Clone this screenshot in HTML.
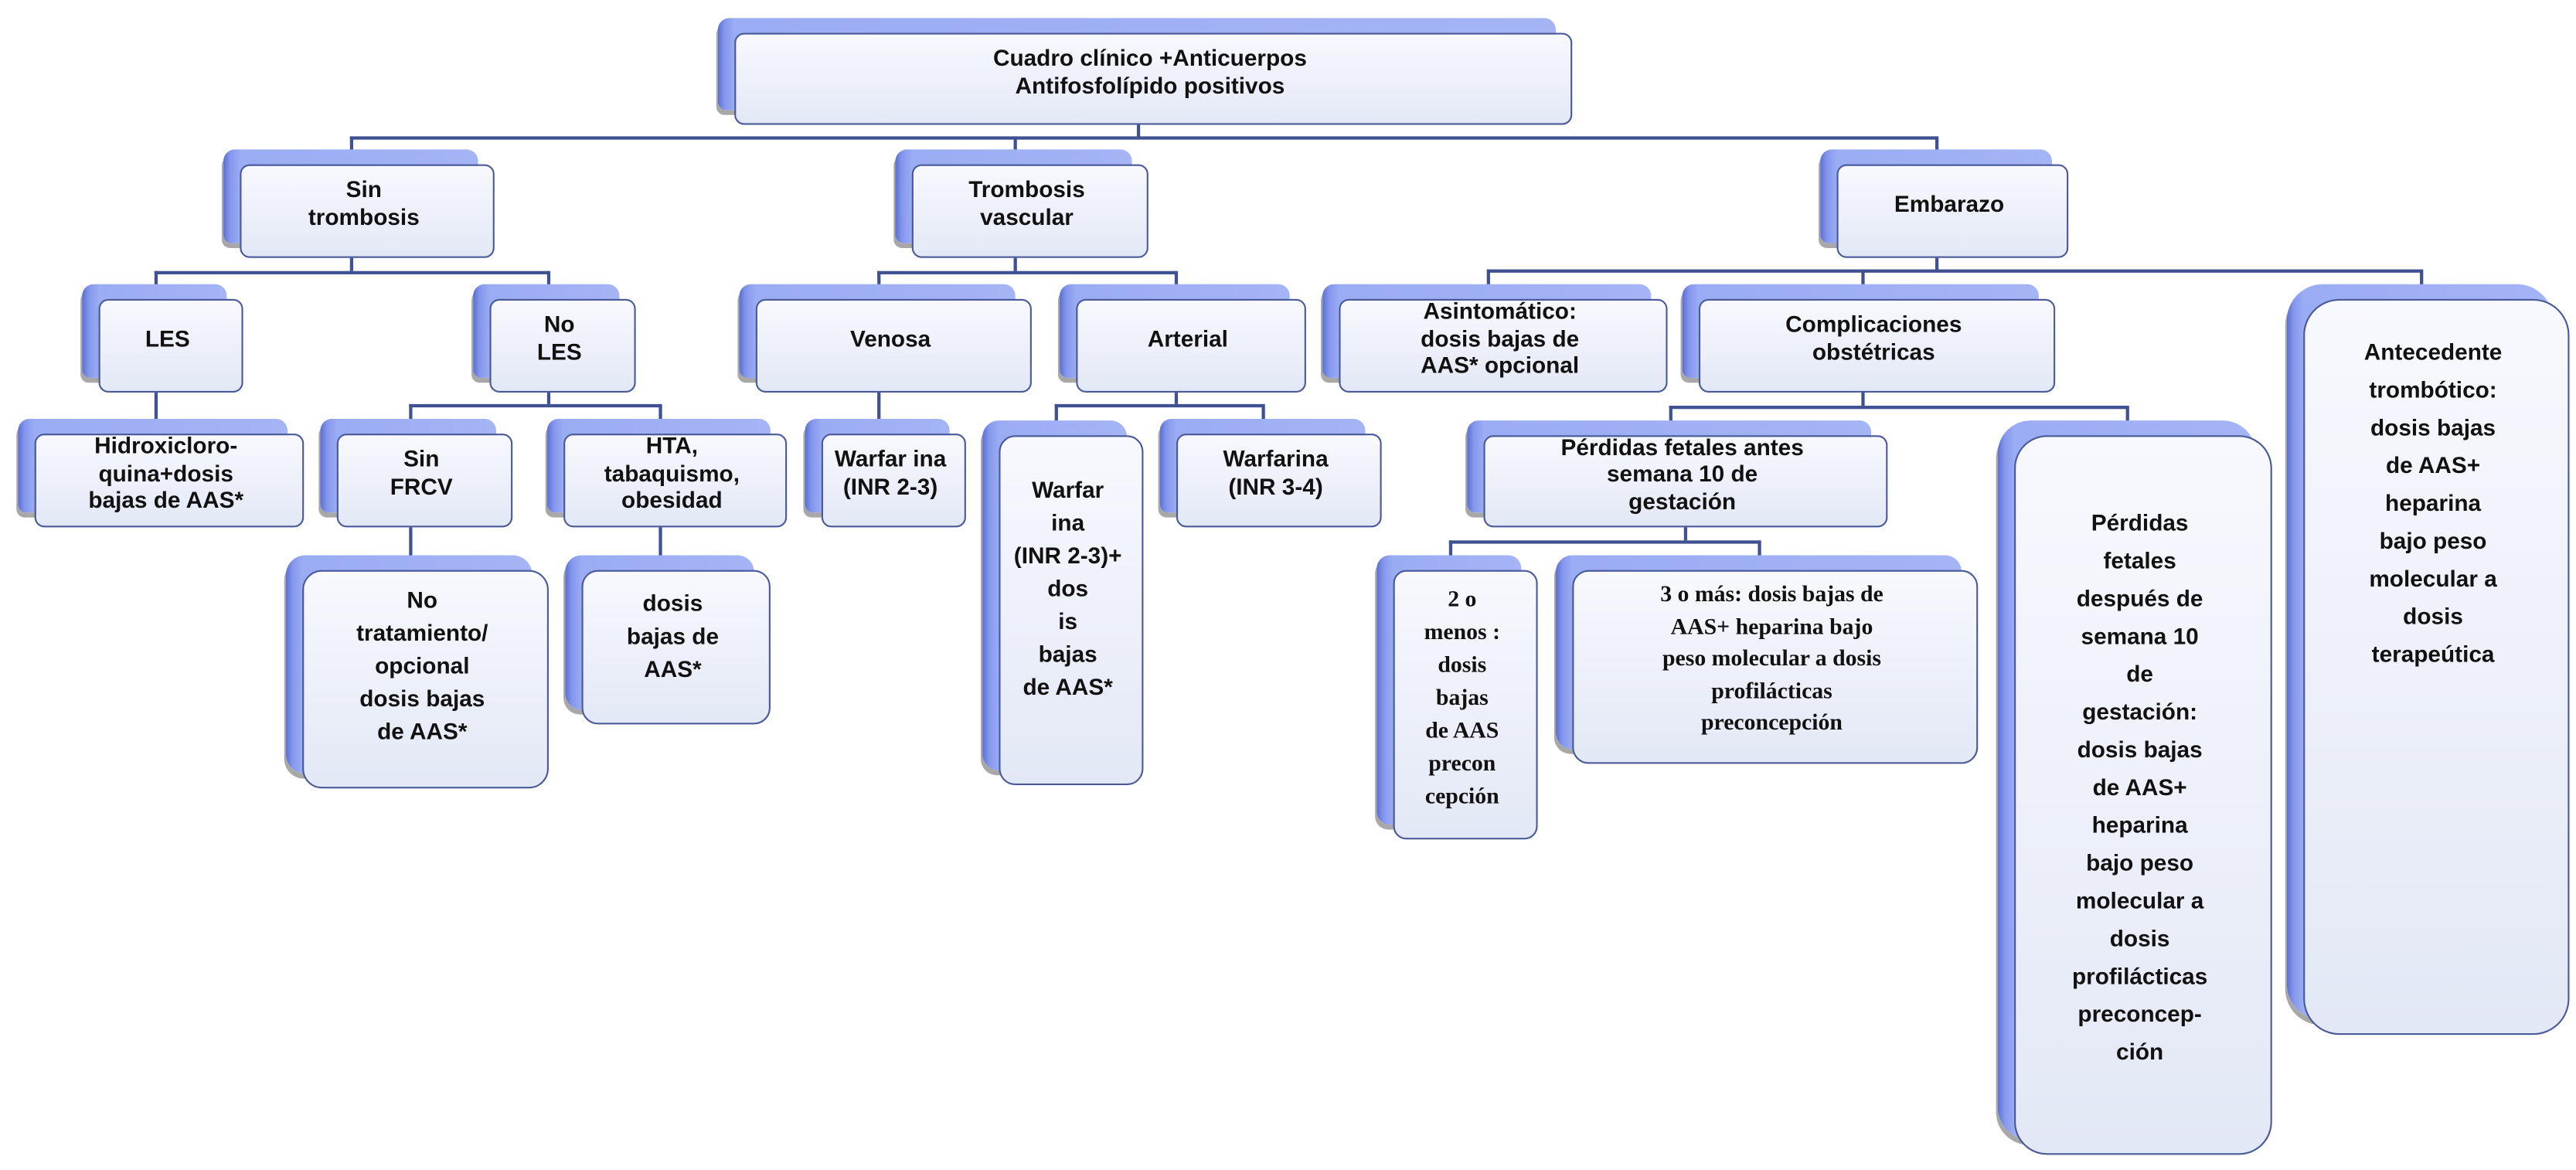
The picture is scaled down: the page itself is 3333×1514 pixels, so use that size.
<!DOCTYPE html>
<html><head><meta charset="utf-8"><style>
html,body{margin:0;padding:0;background:#fff;width:3333px;height:1514px;overflow:hidden}
#c{position:absolute;left:0;top:0;width:1568px;height:712px;transform:scale(2.12564);transform-origin:0 0}
.l{position:absolute;background:#3f5190}
.n{position:absolute}
.b{position:absolute;left:-10px;top:-9px;width:100%;height:100%;border-radius:7px 7px 5px 5px;background:linear-gradient(90deg,#5a6fd0 0,#8496ec 4px,#9aacf3 10px,#a4b4f5 100%);box-shadow:-1px 3px 0 #a8a8a8}
.f{position:absolute;left:0;top:0;width:100%;height:100%;box-sizing:border-box;border:1.5px solid #4a5a98;border-radius:6px;background:linear-gradient(#f8f9fe,#e3e8f6);display:flex;align-items:center;justify-content:center;text-align:center;font:bold 14px/1.18 "Liberation Sans",Arial,sans-serif;color:#111;padding:0 4px 9px 0}
.s{font-family:"Liberation Serif",serif}
</style></head><body><div id="c">
<!-- connectors -->
<div class="l" style="left:692px;top:76px;width:1.5px;height:8px"></div>
<div class="l" style="left:213px;top:83px;width:966px;height:1.5px"></div>
<div class="l" style="left:213px;top:83px;width:1.5px;height:10px"></div>
<div class="l" style="left:617px;top:83px;width:1.5px;height:10px"></div>
<div class="l" style="left:1178px;top:83px;width:1.5px;height:10px"></div>

<div class="l" style="left:213px;top:157px;width:1.5px;height:8px"></div>
<div class="l" style="left:94px;top:165px;width:240px;height:1.5px"></div>
<div class="l" style="left:94px;top:165px;width:1.5px;height:10px"></div>
<div class="l" style="left:333px;top:165px;width:1.5px;height:10px"></div>

<div class="l" style="left:617px;top:157px;width:1.5px;height:8px"></div>
<div class="l" style="left:534px;top:165px;width:182px;height:1.5px"></div>
<div class="l" style="left:534px;top:165px;width:1.5px;height:10px"></div>
<div class="l" style="left:715px;top:165px;width:1.5px;height:10px"></div>

<div class="l" style="left:1178px;top:157px;width:1.5px;height:8px"></div>
<div class="l" style="left:905px;top:164px;width:569px;height:1.5px"></div>
<div class="l" style="left:905px;top:164px;width:1.5px;height:11px"></div>
<div class="l" style="left:1133px;top:164px;width:1.5px;height:11px"></div>
<div class="l" style="left:1473px;top:164px;width:1.5px;height:11px"></div>

<div class="l" style="left:94px;top:239px;width:1.5px;height:18px"></div>
<div class="l" style="left:333px;top:239px;width:1.5px;height:7px"></div>
<div class="l" style="left:249px;top:246px;width:153px;height:1.5px"></div>
<div class="l" style="left:249px;top:246px;width:1.5px;height:10px"></div>
<div class="l" style="left:401px;top:246px;width:1.5px;height:10px"></div>
<div class="l" style="left:534px;top:239px;width:1.5px;height:18px"></div>
<div class="l" style="left:715px;top:239px;width:1.5px;height:7px"></div>
<div class="l" style="left:642px;top:246px;width:127px;height:1.5px"></div>
<div class="l" style="left:642px;top:246px;width:1.5px;height:10px"></div>
<div class="l" style="left:768px;top:246px;width:1.5px;height:10px"></div>
<div class="l" style="left:1133px;top:239px;width:1.5px;height:8px"></div>
<div class="l" style="left:1016px;top:247px;width:279px;height:1.5px"></div>
<div class="l" style="left:1016px;top:247px;width:1.5px;height:10px"></div>
<div class="l" style="left:1294px;top:247px;width:1.5px;height:10px"></div>

<div class="l" style="left:249px;top:321px;width:1.5px;height:18px"></div>
<div class="l" style="left:401px;top:321px;width:1.5px;height:18px"></div>
<div class="l" style="left:1025px;top:321px;width:1.5px;height:8px"></div>
<div class="l" style="left:882px;top:329px;width:189px;height:1.5px"></div>
<div class="l" style="left:882px;top:329px;width:1.5px;height:10px"></div>
<div class="l" style="left:1070px;top:329px;width:1.5px;height:10px"></div>

<!-- nodes -->
<div class="n" style="left:447px;top:20px;width:510px;height:56px"><div class="b"></div><div class="f">Cuadro clínico +Anticuerpos<br>Antifosfolípido positivos</div></div>
<div class="n" style="left:146px;top:100px;width:155px;height:57px"><div class="b"></div><div class="f">Sin<br>trombosis</div></div>
<div class="n" style="left:555px;top:100px;width:144px;height:57px"><div class="b"></div><div class="f">Trombosis<br>vascular</div></div>
<div class="n" style="left:1118px;top:100px;width:141px;height:57px"><div class="b"></div><div class="f">Embarazo</div></div>

<div class="n" style="left:60px;top:182px;width:88px;height:57px"><div class="b"></div><div class="f">LES</div></div>
<div class="n" style="left:298px;top:182px;width:89px;height:57px"><div class="b"></div><div class="f">No<br>LES</div></div>
<div class="n" style="left:460px;top:182px;width:168px;height:57px"><div class="b"></div><div class="f">Venosa</div></div>
<div class="n" style="left:655px;top:182px;width:140px;height:57px"><div class="b"></div><div class="f">Arterial</div></div>
<div class="n" style="left:815px;top:182px;width:200px;height:57px"><div class="b"></div><div class="f">Asintomático:<br>dosis bajas de<br>AAS* opcional</div></div>
<div class="n" style="left:1034px;top:182px;width:217px;height:57px"><div class="b"></div><div class="f">Complicaciones<br>obstétricas</div></div>
<div class="n" style="left:1402px;top:182px;width:162px;height:448px"><div class="b" style="border-radius:22px"></div><div class="f" style="border-radius:22px;line-height:23px;align-items:flex-start;padding-top:20px">Antecedente<br>trombótico:<br>dosis bajas<br>de AAS+<br>heparina<br>bajo peso<br>molecular a<br>dosis<br>terapeútica</div></div>

<div class="n" style="left:21px;top:264px;width:164px;height:57px"><div class="b"></div><div class="f">Hidroxicloro-<br>quina+dosis<br>bajas de AAS*</div></div>
<div class="n" style="left:205px;top:264px;width:107px;height:57px"><div class="b"></div><div class="f">Sin<br>FRCV</div></div>
<div class="n" style="left:343px;top:264px;width:136px;height:57px"><div class="b"></div><div class="f">HTA,<br>tabaquismo,<br>obesidad</div></div>
<div class="n" style="left:500px;top:264px;width:88px;height:57px"><div class="b"></div><div class="f">Warfar ina<br>(INR 2-3)</div></div>
<div class="n" style="left:608px;top:265px;width:88px;height:213px"><div class="b" style="border-radius:10px"></div><div class="f" style="border-radius:10px;line-height:20px;padding-bottom:28px">Warfar<br>ina<br>(INR 2-3)+<br>dos<br>is<br>bajas<br>de AAS*</div></div>
<div class="n" style="left:716px;top:264px;width:125px;height:57px"><div class="b"></div><div class="f">Warfarina<br>(INR 3-4)</div></div>
<div class="n" style="left:903px;top:265px;width:246px;height:56px"><div class="b"></div><div class="f">Pérdidas fetales antes<br>semana 10 de<br>gestación</div></div>
<div class="n" style="left:1226px;top:265px;width:157px;height:438px"><div class="b" style="border-radius:20px"></div><div class="f" style="border-radius:20px;line-height:23px">Pérdidas<br>fetales<br>después de<br>semana 10<br>de<br>gestación:<br>dosis bajas<br>de AAS+<br>heparina<br>bajo peso<br>molecular a<br>dosis<br>profilácticas<br>preconcep-<br>ción</div></div>

<div class="n" style="left:184px;top:347px;width:150px;height:133px"><div class="b" style="border-radius:12px"></div><div class="f" style="border-radius:12px;line-height:20px;padding-bottom:18px">No<br>tratamiento/<br>opcional<br>dosis bajas<br>de AAS*</div></div>
<div class="n" style="left:354px;top:347px;width:115px;height:94px"><div class="b" style="border-radius:10px"></div><div class="f" style="border-radius:10px;line-height:20px;padding-bottom:14px">dosis<br>bajas de<br>AAS*</div></div>
<div class="n" style="left:848px;top:347px;width:88px;height:164px"><div class="b" style="border-radius:8px"></div><div class="f s" style="border-radius:8px;line-height:20px;font-family:'Liberation Serif',serif;font-size:14px;padding-bottom:6px">2 o<br>menos :<br>dosis<br>bajas<br>de AAS<br>precon<br>cepción</div></div>
<div class="n" style="left:957px;top:347px;width:247px;height:118px"><div class="b" style="border-radius:10px"></div><div class="f s" style="border-radius:10px;line-height:19.5px;font-family:'Liberation Serif',serif;font-size:14px;padding-bottom:8px">3 o más: dosis bajas de<br>AAS+ heparina bajo<br>peso molecular a dosis<br>profilácticas<br>preconcepción</div></div>
</div></body></html>
